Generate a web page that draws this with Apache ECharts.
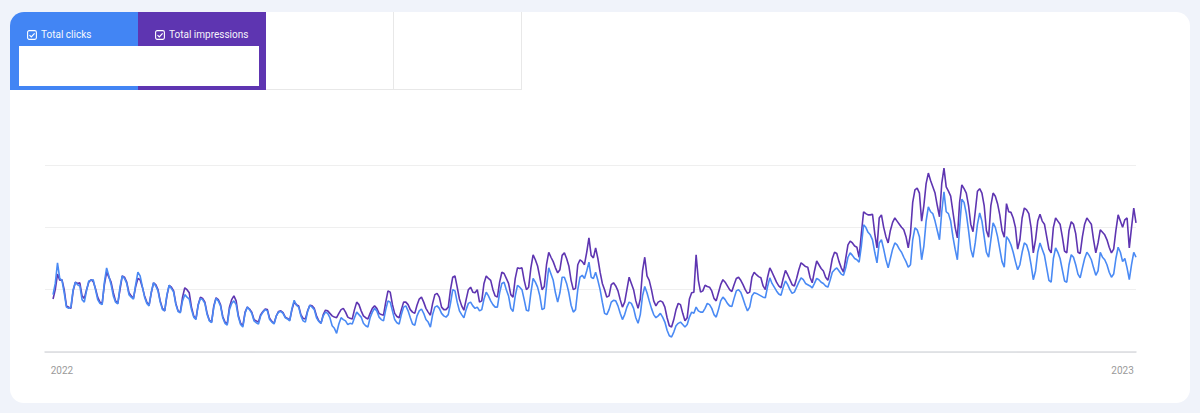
<!DOCTYPE html>
<html>
<head>
<meta charset="utf-8">
<script src="https://cdn.jsdelivr.net/npm/echarts@6/dist/echarts.min.js"></script>
<style>
  html, body { margin:0; padding:0; width:1200px; height:413px; overflow:hidden; background:#f0f3fa; font-family: Roboto, "Noto Sans", sans-serif; }
  #card { position:absolute; left:10px; top:12px; width:1180px; height:391px; background:#fff; border-radius:14px; }
  .tab { position:absolute; top:12px; height:78px; width:128px; }
  #tabClicks { left:10px; background:#4285f4; border-top-left-radius:14px; }
  #tabImpr { left:138px; background:#5e35b1; }
  .tabText { position:absolute; top:29px; color:#fff; font-size:10px; line-height:12px; white-space:nowrap; opacity:0.95; }
  .cb { position:absolute; top:30px; width:10px; height:10px; }
  #inner { position:absolute; left:19px; top:46px; width:240px; height:40px; background:#fff; }
  .empty { position:absolute; top:12px; height:77px; width:127px; border-right:1px solid #e8e8e8; border-bottom:1px solid #e8e8e8; background:#fff; }
  #chart { position:absolute; left:0; top:0; width:1200px; height:413px; }
</style>
</head>
<body>
<div id="card"></div>
<div class="tab" id="tabClicks"></div>
<div class="tab" id="tabImpr"></div>
<div class="empty" style="left:266px;"></div>
<div class="empty" style="left:394px;"></div>
<div id="inner"></div>
<svg class="cb" style="left:27px;" viewBox="0 0 10 10"><rect x="0.6" y="0.6" width="8.8" height="8.8" rx="1.6" fill="none" stroke="#fff" stroke-width="1.1"/><path d="M2.5 5.1 L4.3 6.9 L7.6 3.3" fill="none" stroke="#fff" stroke-width="1.2"/></svg>
<div class="tabText" style="left:41px;">Total clicks</div>
<svg class="cb" style="left:155px;" viewBox="0 0 10 10"><rect x="0.6" y="0.6" width="8.8" height="8.8" rx="1.6" fill="none" stroke="#fff" stroke-width="1.1"/><path d="M2.5 5.1 L4.3 6.9 L7.6 3.3" fill="none" stroke="#fff" stroke-width="1.2"/></svg>
<div class="tabText" style="left:169px;">Total impressions</div>
<div id="chart"></div>
<script>
const seriesNames = ['Total clicks', 'Total impressions'];
const tickLabels = ['2022', '2023'];
const tickDays = [4, 479];

const clicks = [
92,110,143,118,115,95,72,
70,72,100,112,108,106,84,
80,98,114,115,116,100,84,
78,76,112,135,122,108,90,
80,77,105,122,118,110,92,
88,85,108,128,122,105,88,
78,74,96,111,106,98,80,
68,66,92,107,102,96,76,
65,63,82,92,88,85,68,
56,52,75,86,84,78,60,
50,47,72,86,82,74,55,
46,43,68,78,82,76,56,
44,40,62,72,68,62,50,
47,45,58,64,68,66,52,
48,45,58,64,65,62,55,
53,50,70,83,75,72,58,
50,48,65,75,72,68,55,
49,46,58,64,62,55,42,
38,30,45,55,52,50,44,
46,45,55,64,60,56,46,
42,40,55,64,70,66,56,
52,50,68,82,80,66,52,
47,45,60,72,74,66,55,
45,43,58,66,69,62,52,
48,40,60,72,74,70,62,
58,56,60,78,100,98,80,
66,60,55,68,78,80,74,
70,72,66,68,85,96,90,
82,76,72,72,95,110,112,
100,90,70,65,90,107,104,
100,84,67,66,95,118,112,
104,90,68,70,105,135,125,
115,95,80,95,120,120,110,
95,75,64,68,100,120,123,
118,130,144,120,118,128,115,
100,80,62,60,68,80,83,
82,74,62,52,60,72,80,
78,70,55,46,60,90,105,
95,82,70,60,55,58,62,
56,48,35,26,24,32,42,
46,48,44,40,44,56,64,
62,72,66,64,64,70,78,
76,70,60,56,68,82,88,
84,78,74,73,86,98,100,
96,86,75,66,72,90,95,
94,92,90,88,87,105,119,
110,104,98,93,91,104,114,
108,100,94,96,104,112,119,
116,110,108,106,103,110,118,
116,112,110,106,104,115,128,
132,135,130,125,123,135,152,
159,155,150,148,144,170,204,
200,192,188,180,160,143,175,
180,165,148,135,150,165,175,
172,165,160,152,145,136,140,
180,199,196,185,148,170,210,
233,225,222,210,195,180,225,
257,225,222,210,185,165,148,
200,245,240,222,195,165,152,
175,205,223,210,185,160,152,
180,207,200,185,165,145,136,
185,180,172,160,145,132,140,
160,175,172,160,140,116,130,
160,175,165,155,135,115,112,
150,167,160,150,132,114,112,
140,156,152,140,125,119,135,
150,160,155,148,135,123,130,
160,152,148,140,128,120,125,
150,168,160,145,150,135,116,
140,160,152
];

const impressions = [
85,100,125,115,116,100,74,
72,70,98,112,110,111,90,
86,100,112,116,113,102,88,
80,78,108,128,120,112,95,
82,78,100,122,120,112,95,
90,86,105,118,116,104,90,
80,75,95,111,108,100,82,
70,66,90,107,104,98,78,
66,64,88,103,100,95,72,
58,53,76,88,86,80,62,
51,48,74,87,84,76,57,
48,45,72,84,90,82,58,
46,42,64,72,69,64,52,
50,48,60,65,69,68,54,
49,46,58,65,66,63,56,
54,51,68,80,76,74,60,
54,53,66,75,74,70,58,
50,46,60,67,66,62,58,
56,55,62,68,70,64,56,
54,53,68,80,76,66,58,
55,53,62,70,74,70,62,
60,59,80,98,96,76,62,
57,55,68,80,80,76,68,
64,62,75,85,88,80,70,
64,59,78,92,94,88,72,
68,68,72,100,120,122,104,
85,74,67,84,100,104,96,
95,100,80,82,110,122,118,
115,100,90,88,112,128,126,
118,110,92,88,118,135,134,
135,115,100,104,135,156,148,
138,120,100,105,140,160,152,
145,135,127,132,155,159,150,
138,115,100,102,140,148,145,
140,160,183,155,151,167,150,
128,110,100,88,90,108,111,
106,98,84,72,80,100,120,
110,100,82,70,85,130,152,
122,115,100,82,74,80,82,
80,72,55,42,40,52,68,
78,76,62,50,55,85,95,
96,156,115,96,98,107,105,
104,98,86,82,95,108,116,
112,106,100,97,108,118,120,
115,108,100,94,96,120,128,
124,121,119,106,100,120,135,
128,120,112,106,103,118,131,
124,116,108,106,118,132,143,
140,137,136,120,111,130,146,
140,134,130,120,115,130,150,
160,158,145,135,128,150,172,
178,175,170,168,152,190,225,
222,220,220,221,190,167,215,
220,200,185,175,195,208,215,
210,205,200,196,185,167,190,
240,260,263,255,210,235,270,
287,275,265,255,235,217,270,
295,265,258,250,225,200,183,
240,268,262,255,235,205,193,
225,258,262,255,235,195,184,
235,255,250,238,220,195,184,
238,225,224,215,200,165,180,
215,231,228,222,200,159,180,
210,221,210,205,185,165,159,
200,215,210,205,185,162,159,
195,209,205,190,160,158,185,
205,215,210,205,180,159,175,
196,192,188,180,168,159,165,
195,220,210,200,212,215,167,
200,231,207
];

const chart = echarts.init(document.getElementById('chart'), null, { renderer: 'svg' });
chart.setOption({
  backgroundColor: 'transparent',
  animation: false,
  grid: { left: 45, right: 64, top: 165, bottom: 61, containLabel: false },
  xAxis: {
    type: 'value',
    min: -3.6,
    max: clicks.length - 1,
    splitLine: { show: false },
    axisTick: { show: false },
    axisLine: { show: true, lineStyle: { color: '#dadce0', width: 1.5 } },
    axisLabel: {
      customValues: tickDays,
      formatter: function (v) { const i = tickDays.indexOf(v); return i >= 0 ? tickLabels[i] : ''; },
      color: '#9a9a9a', fontSize: 10, fontFamily: 'Roboto', margin: 13
    }
  },
  yAxis: {
    type: 'value',
    min: 0, max: 300, interval: 100,
    axisLabel: { show: false },
    axisTick: { show: false },
    axisLine: { show: false },
    splitLine: { lineStyle: { color: '#efefef', width: 1 } }
  },
  series: [
    {
      name: seriesNames[1], type: 'line', showSymbol: false, symbol: 'none',
      lineStyle: { color: '#5e35b1', width: 1.6 },
      data: impressions.map((v, i) => [i, v])
    },
    {
      name: seriesNames[0], type: 'line', showSymbol: false, symbol: 'none',
      lineStyle: { color: '#4a8af4', width: 1.6 },
      data: clicks.map((v, i) => [i, v])
    }
  ]
});
</script>
</body>
</html>
